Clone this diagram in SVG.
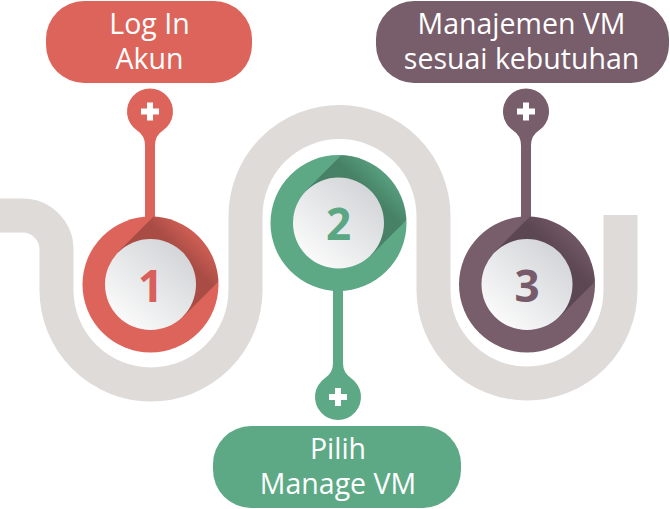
<svg xmlns="http://www.w3.org/2000/svg" width="670" height="509" viewBox="0 0 670 509">
<style>
.lbl{font-family:"Open Sans","Liberation Sans",sans-serif;font-size:28.5px;font-weight:400;fill:#fff;text-anchor:middle}
.num{font-family:"Open Sans","Liberation Sans",sans-serif;font-size:44px;font-weight:700;text-anchor:middle}
.red{fill:#dd645a}.green{fill:#5da986}.purple{fill:#785d6b}
.plus{fill:#fff}
</style>
<defs>
<clipPath id="ringclip"><circle r="68"/></clipPath>
<linearGradient id="shadow" gradientUnits="userSpaceOnUse" x1="30" y1="-30" x2="70" y2="-70">
<stop offset="0" stop-color="#000" stop-opacity="0.24"/>
<stop offset="0.4" stop-color="#000" stop-opacity="0.08"/>
<stop offset="1" stop-color="#000" stop-opacity="0.03"/>
</linearGradient>
<linearGradient id="face" x1="0.85" y1="0.1" x2="0.15" y2="0.9">
<stop offset="0" stop-color="#d2d4d7"/>
<stop offset="1" stop-color="#fbfbfb"/>
</linearGradient>
<path id="pin" d="M-13.2 18.8 A23 23 0 1 1 13.2 18.8 Q5 24 5 34 V112 H-5 V34 Q-5 24 -13.2 18.8 Z"/>
<path id="plus" d="M-3 -9 h6 v6 h6 v6 h-6 v6 h-6 v-6 h-6 v-6 h6 z"/>
<polygon id="shade" points="-32.5,-32.5 67.5,-132.5 132.5,-67.5 32.5,32.5"/>
</defs>

<g id="track">
<path d="M0 215.5 H22.5 A34 34 0 0 1 56.5 249.5 V290 A94.5 94.5 0 0 0 245.5 290 V216 A94 94 0 0 1 433.5 216 V290 A93.5 93.5 0 0 0 620.5 290 V215" fill="none" stroke="#dfdbd9" stroke-width="34"/>
</g>

<g id="connectors">
<g transform="translate(150,111.5)"><use href="#pin" class="red"/><use href="#plus" class="plus"/></g>
<g transform="translate(526,111.5)"><use href="#pin" class="purple"/><use href="#plus" class="plus"/></g>
<g transform="translate(338,397) scale(1,-1)"><use href="#pin" class="green"/><use href="#plus" class="plus"/></g>
</g>

<g id="step1" transform="translate(150.5,284.5)">
<circle r="68" class="red"/>
<g clip-path="url(#ringclip)"><use href="#shade" fill="url(#shadow)"/></g>
<circle r="45.5" fill="url(#face)"/>
<text class="num" y="17" fill="#d9605a">1</text>
</g>

<g id="step2" transform="translate(338.5,223)">
<circle r="68" class="green"/>
<g clip-path="url(#ringclip)"><use href="#shade" fill="url(#shadow)"/></g>
<circle r="45.5" fill="url(#face)"/>
<text class="num" y="17" fill="#5ba683">2</text>
</g>

<g id="step3" transform="translate(527,284.5)">
<circle r="68" class="purple"/>
<g clip-path="url(#ringclip)"><use href="#shade" fill="url(#shadow)"/></g>
<circle r="45.5" fill="url(#face)"/>
<text class="num" y="17" fill="#775b6a">3</text>
</g>

<g id="label1">
<rect x="46" y="1" width="206" height="82" rx="38" class="red"/>
<text class="lbl"><tspan x="149.5" y="33.5">Log In</tspan><tspan x="149.5" y="68.5">Akun</tspan></text>
</g>

<g id="label3">
<rect x="376" y="1" width="293" height="82" rx="38" class="purple"/>
<text class="lbl"><tspan x="521.5" y="33.5">Manajemen VM</tspan><tspan x="521.5" y="68.5">sesuai kebutuhan</tspan></text>
</g>

<g id="label2">
<rect x="213" y="426" width="248" height="82" rx="38" class="green"/>
<text class="lbl"><tspan x="338" y="458.5">Pilih</tspan><tspan x="338" y="493.5">Manage VM</tspan></text>
</g>
</svg>
